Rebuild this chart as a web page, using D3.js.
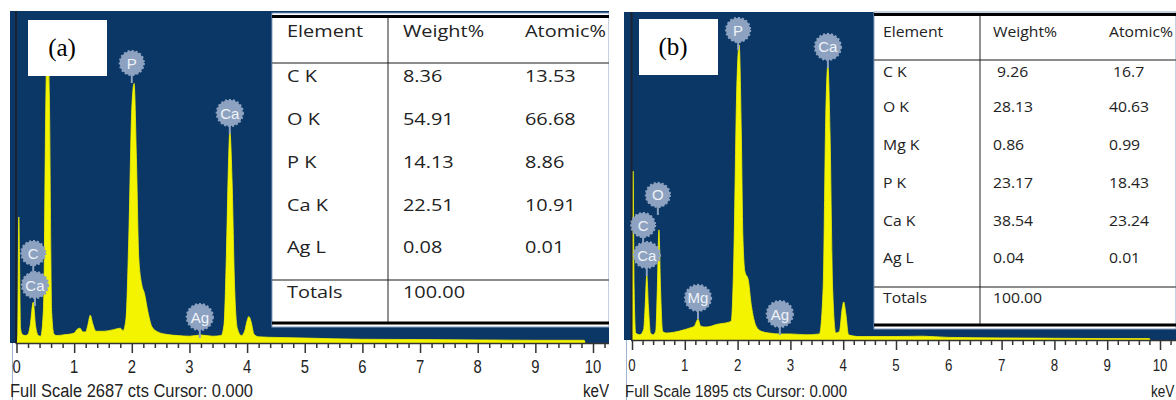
<!DOCTYPE html>
<html><head><meta charset="utf-8">
<script src="https://cdn.jsdelivr.net/npm/d3@7"></script>
<style>body{margin:0;background:#fff;} svg{display:block}</style>
</head><body>
<svg id="chart" width="1176" height="400"></svg>
<script>
// ---------------- DATA ----------------
// Spectrum (a): energy in keV, counts
const energyA = [0.00,0.02,0.04,0.07,0.10,0.15,0.20,0.24,0.29,0.33,0.38,0.42,0.47,0.51,0.54,0.57,0.61,0.65,0.70,0.80,0.90,1.00,1.05,1.10,1.15,1.20,1.24,1.28,1.32,1.38,1.50,1.60,1.70,1.80,1.85,1.90,1.95,2.00,2.04,2.08,2.12,2.17,2.22,2.28,2.35,2.45,2.60,2.80,3.00,3.20,3.40,3.55,3.60,3.64,3.68,3.70,3.74,3.78,3.83,3.90,3.96,4.00,4.03,4.07,4.12,4.20,4.50,5.00,6.00,7.00,8.00,9.00,9.85,9.86];
const countsA = [0,60,1020,120,70,60,70,150,330,140,60,55,300,2000,2560,2000,250,70,60,65,70,80,110,120,90,90,150,225,160,95,95,100,110,120,100,200,900,1900,2100,1500,700,480,400,250,130,90,70,60,55,65,55,60,150,700,1500,1716,1300,500,120,60,100,180,215,170,70,50,45,40,30,28,25,22,22,0];
// Spectrum (b)
const energyB = [0.00,0.01,0.02,0.04,0.07,0.15,0.22,0.25,0.28,0.31,0.35,0.40,0.45,0.48,0.51,0.54,0.58,0.65,0.80,1.00,1.10,1.18,1.25,1.30,1.40,1.50,1.60,1.70,1.80,1.88,1.93,1.98,2.03,2.07,2.10,2.14,2.20,2.26,2.35,2.45,2.60,2.80,3.00,3.30,3.55,3.62,3.67,3.71,3.75,3.80,3.86,3.93,3.98,4.01,4.05,4.10,4.30,5.00,5.50,6.00,7.00,8.00,9.00,9.80,9.81];
const countsB = [0,300,976,300,40,30,60,200,376,200,40,30,50,300,636,300,50,40,45,60,70,80,120,80,75,80,90,95,100,110,500,1400,1704,1200,600,393,350,200,80,50,40,35,35,30,35,300,1300,1589,1200,300,40,50,180,220,150,30,20,20,22,15,12,10,8,8,0];
const fullScaleA = 2687;
const fullScaleB = 1895;
const tickValues = [0,1,2,3,4,5,6,7,8,9,10];
const tickLabels = ["0","1","2","3","4","5","6","7","8","9","10"];
const footerA = "Full Scale 2687 cts Cursor: 0.000";
const footerB = "Full Scale 1895 cts Cursor: 0.000";
const unitLabel = "keV";
// peak markers (element, keV, counts)
const peakNamesA = ["P","Ca","C","Ca","Ag"];
const peakKeVA   = [2.00,3.70,0.29,0.32,3.18];
const peakCtsA   = [2266,1861,728,469,210];
const peakNamesB = ["P","Ca","O","C","Ca","Mg","Ag"];
const peakKeVB   = [2.01,3.71,0.49,0.21,0.28,1.25,2.80];
const peakCtsB   = [1791,1693,838,664,491,243,150];
// tables
const tableHeader = ["Element","Weight%","Atomic%"];
const elementsA = ["C K","O K","P K","Ca K","Ag L"];
const weightA   = ["8.36","54.91","14.13","22.51","0.08"];
const atomicA   = ["13.53","66.68","8.86","10.91","0.01"];
const elementsB = ["C K","O K","Mg K","P K","Ca K","Ag L"];
const weightB   = [" 9.26","28.13","0.86","23.17","38.54","0.04"];
const atomicB   = [" 16.7","40.63","0.99","18.43","23.24","0.01"];
const totalsLabel = "Totals";
const totalWeightA = "100.00";
const totalWeightB = "100.00";
const panelTags = ["(a)","(b)"];

// ---------------- DRAWING ----------------
const svg = d3.select("#chart");
const NAVY = "#0b3767", YELLOW = "#f4f400", BUBBLE = "#8da2c0";

const panels = [
  { id:"A", clipX:0, clipW:609, bgX:10, bgW:599, top:11, base:343, x0:16.5, x10:593,
    energy:energyA, counts:countsA, fs:fullScaleA, footer:footerA, footerW:243, footerX:10,
    tickY:373, tickFont:19, keVX:583,
    names:peakNamesA, pk:peakKeVA, pc:peakCtsA, tag:panelTags[0],
    tagBox:[28,20,79,56], tagText:[62,56],
    table:{x:272, y:13, x1:609, y1:327, top:16.5, hdr:63, tot:280, bot:323, vx:388,
      cols:[287,403,525], font:17, sx:1.17, hdrY:37, rowsY:[82,125,168,211,253], totY:298,
      el:elementsA, w:weightA, a:atomicA, tw:totalWeightA} },
  { id:"B", clipX:620, clipW:556, bgX:624, bgW:552, top:12, base:340, x0:632, x10:1160,
    energy:energyB, counts:countsB, fs:fullScaleB, footer:footerB, footerW:222, footerX:625,
    tickY:371, tickFont:17, keVX:1151,
    names:peakNamesB, pk:peakKeVB, pc:peakCtsB, tag:panelTags[1],
    tagBox:[639,19,79,56], tagText:[673,55],
    table:{x:874, y:12, x1:1176, y1:329, top:14.5, hdr:60, tot:287, bot:325, vx:980,
      cols:[883,993,1109], font:15, sx:1.05, hdrY:37, rowsY:[77,112,150,188,226,263], totY:303,
      el:elementsB, w:weightB, a:atomicB, tw:totalWeightB} }
];

const defs = svg.append("defs");

panels.forEach(p => {
  defs.append("clipPath").attr("id","clip"+p.id)
    .append("rect").attr("x",p.clipX).attr("y",0).attr("width",p.clipW).attr("height",400);
  defs.append("clipPath").attr("id","plot"+p.id)
    .append("rect").attr("x",p.x0).attr("y",p.top).attr("width",p.bgX+p.bgW-p.x0).attr("height",p.base-p.top);

  const g = svg.append("g").attr("clip-path",`url(#clip${p.id})`);
  const x = d3.scaleLinear().domain([0,10]).range([p.x0,p.x10]);
  const y = d3.scaleLinear().domain([0,p.fs]).range([p.base,p.top]);
  const xMax = x.invert(p.bgX+p.bgW);

  // background
  g.append("rect").attr("x",p.bgX).attr("y",p.top).attr("width",p.bgW).attr("height",p.base-p.top).attr("fill",NAVY);
  // thin frame line under plot on the left
  g.append("line").attr("x1",p.bgX+2.5).attr("x2",p.bgX+2.5).attr("y1",p.base).attr("y2",400)
    .attr("stroke","#9fb3d3").attr("stroke-width",1);

  // spectrum
  const pts = p.energy.map((e,i)=>[e,p.counts[i]]);
  const area = d3.area().x(d=>x(d[0])).y0(y(0)).y1(d=>y(d[1])).curve(d3.curveMonotoneX);
  g.append("g").attr("clip-path",`url(#plot${p.id})`)
    .append("path").datum(pts).attr("d",area).attr("fill",YELLOW).attr("stroke",YELLOW).attr("stroke-width",0.8);

  // y axis line
  g.append("line").attr("x1",p.x0-0.5).attr("x2",p.x0-0.5).attr("y1",p.top).attr("y2",p.base)
    .attr("stroke","#1a2233").attr("stroke-width",2);

  // peak bubbles
  const bub = g.append("g");
  p.names.forEach((n,i)=>{
    const cx = x(p.pk[i]), cy = y(p.pc[i]);
    const r = n.length>1 ? 13 : 12;
    bub.append("line").attr("x1",cx).attr("x2",cx).attr("y1",cy+r-1).attr("y2",cy+r+8)
      .attr("stroke",BUBBLE).attr("stroke-width",2);
    bub.append("circle").attr("cx",cx).attr("cy",cy).attr("r",r).attr("fill",BUBBLE)
      .attr("stroke",BUBBLE).attr("stroke-width",2.2).attr("stroke-dasharray","2,2");
    bub.append("text").attr("x",cx).attr("y",cy+5.5).attr("text-anchor","middle")
      .attr("font-family","Liberation Sans, Arial, sans-serif").attr("font-size",15)
      .attr("fill","#eef2f8").text(n);
  });

  // table
  const t = p.table;
  const tg = g.append("g");
  tg.append("rect").attr("x",t.x).attr("y",t.y).attr("width",t.x1-t.x).attr("height",t.y1-t.y)
    .attr("fill","#fff").attr("stroke","#8aa0c0").attr("stroke-width",1);
  tg.append("line").attr("x1",t.x).attr("x2",t.x1).attr("y1",t.top).attr("y2",t.top).attr("stroke","#000").attr("stroke-width",3);
  tg.append("line").attr("x1",t.x).attr("x2",t.x1).attr("y1",t.bot).attr("y2",t.bot).attr("stroke","#000").attr("stroke-width",3);
  [t.hdr,t.tot].forEach(yy=>tg.append("line").attr("x1",t.x).attr("x2",t.x1).attr("y1",yy).attr("y2",yy)
    .attr("stroke","#666").attr("stroke-width",1.5));
  tg.append("line").attr("x1",t.vx).attr("x2",t.vx).attr("y1",t.top+1).attr("y2",t.bot-1).attr("stroke","#222").attr("stroke-width",1);
  const txt = (s,xx,yy)=>tg.append("text").attr("transform",`translate(${xx},${yy}) scale(${t.sx},1)`)
    .attr("font-family","Open Sans, sans-serif").attr("font-size",t.font).attr("fill","#222")
    .style("white-space","pre").text(s);
  tableHeader.forEach((h,i)=>txt(h,t.cols[i],t.hdrY));
  t.el.forEach((e,i)=>{ txt(e,t.cols[0],t.rowsY[i]); txt(t.w[i],t.cols[1],t.rowsY[i]); txt(t.a[i],t.cols[2],t.rowsY[i]); });
  txt(totalsLabel,t.cols[0],t.totY); txt(t.tw,t.cols[1],t.totY);

  // panel tag box
  g.append("rect").attr("x",p.tagBox[0]).attr("y",p.tagBox[1]).attr("width",p.tagBox[2]).attr("height",p.tagBox[3]).attr("fill","#fff");
  g.append("text").attr("x",p.tagText[0]).attr("y",p.tagText[1]).attr("text-anchor","middle")
    .attr("font-family","Liberation Serif, Times New Roman, serif").attr("font-size",25).attr("fill","#000").text(p.tag);

  // x axis
  const minor = d3.range(0, xMax+1e-9, 0.2).filter(v=>Math.abs(v-Math.round(v))>1e-6);
  const axG = g.append("g").attr("transform",`translate(0,${p.base})`);
  axG.append("line").attr("x1",p.x0-1).attr("x2",p.bgX+p.bgW).attr("y1",0.5).attr("y2",0.5).attr("stroke","#333").attr("stroke-width",1.5);
  const majorAxis = d3.axisBottom(x).tickValues(d3.range(0, Math.floor(xMax)+1)).tickSize(10).tickFormat("");
  const minorAxis = d3.axisBottom(x).tickValues(minor).tickSize(5).tickFormat("");
  [majorAxis,minorAxis].forEach(ax=>{
    const a = axG.append("g").call(ax);
    a.select(".domain").remove();
    a.selectAll("line").attr("stroke","#333").attr("stroke-width",1.5);
  });
  // tick labels
  tickValues.forEach((v,i)=>{
    g.append("text").attr("transform",`translate(${x(v)},${p.tickY}) scale(0.78,1)`)
      .attr("text-anchor","middle").attr("font-family","Liberation Sans, Arial, sans-serif")
      .attr("font-size",p.tickFont).attr("fill","#222").text(tickLabels[i]);
  });
  // footer
  g.append("text").attr("x",p.footerX).attr("y",397).attr("font-family","Liberation Sans, Arial, sans-serif")
    .attr("font-size",p.tickFont-1).attr("fill","#222").attr("textLength",p.footerW).attr("lengthAdjust","spacingAndGlyphs")
    .text(p.footer);
  g.append("text").attr("transform",`translate(${p.keVX},397) scale(0.8,1)`).attr("font-family","Liberation Sans, Arial, sans-serif")
    .attr("font-size",p.tickFont).attr("fill","#222").text(unitLabel);
});
</script>
</body></html>
